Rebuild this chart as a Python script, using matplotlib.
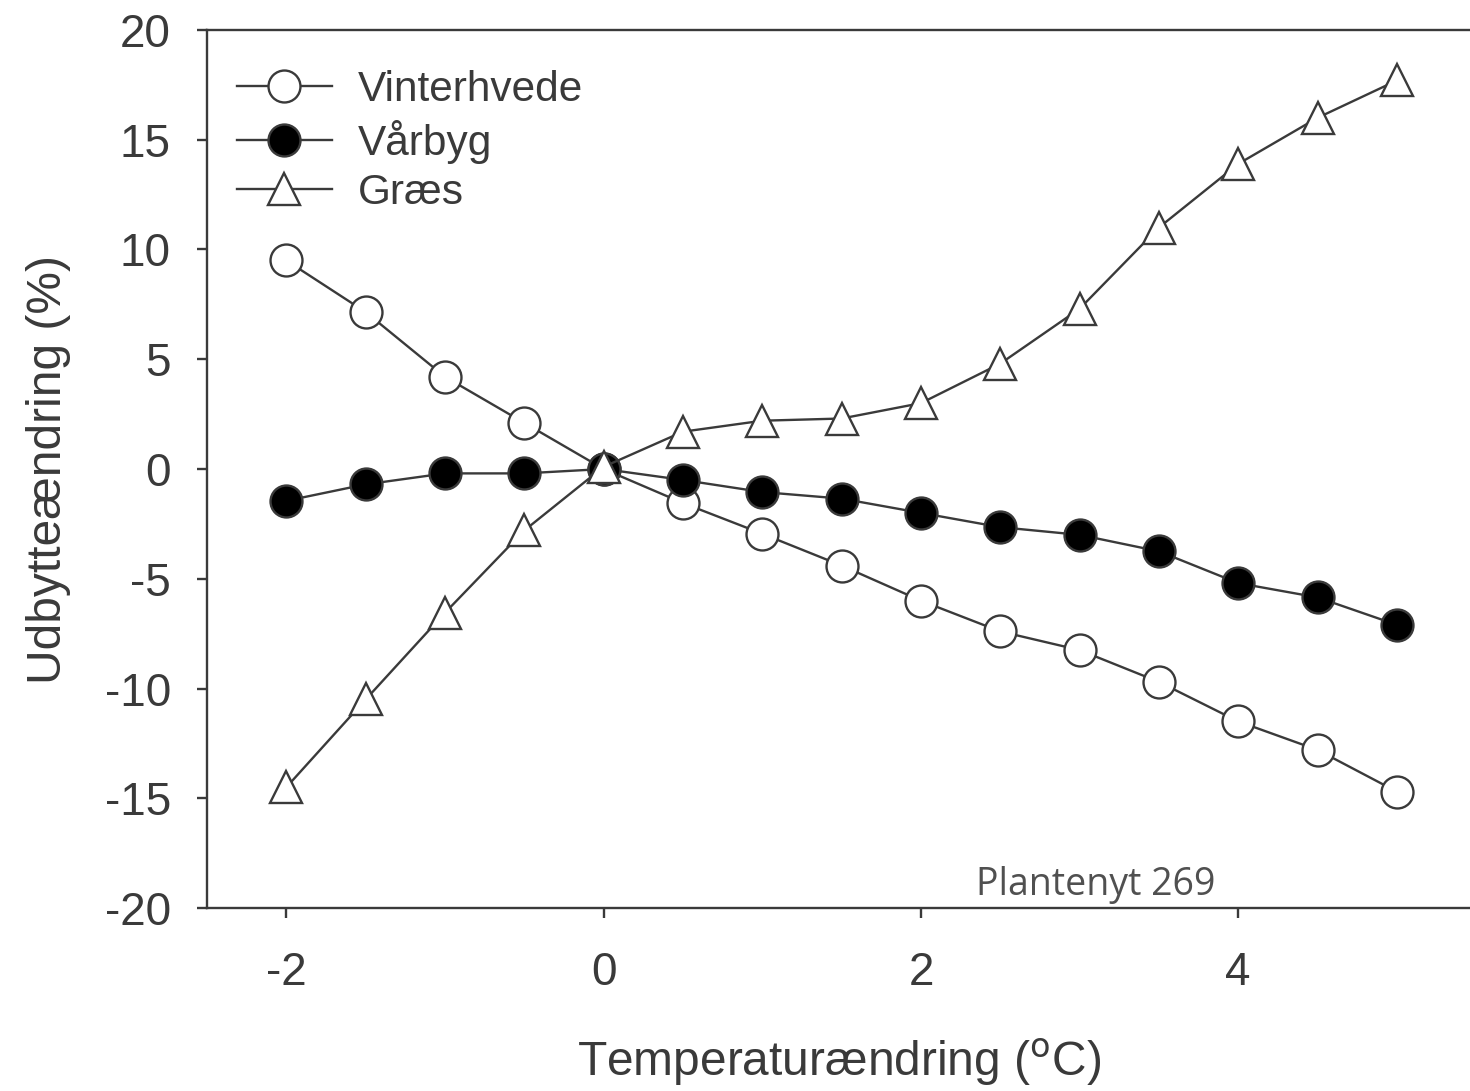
import numpy as np
import matplotlib.pyplot as plt

# temperature change (degC)
temp = [-2, -1.5, -1, -0.5, 0, 0.5, 1, 1.5, 2, 2.5, 3, 3.5, 4, 4.5, 5]

# yield change (%)
vinterhvede = [9.5, 7.15, 4.2, 2.1, 0, -1.55, -2.95, -4.4, -6.0, -7.4, -8.25, -9.7, -11.5, -12.8, -14.7]
vaarbyg = [-1.45, -0.7, -0.2, -0.2, 0, -0.5, -1.05, -1.35, -2.0, -2.65, -3.0, -3.75, -5.2, -5.85, -7.1]
graes = [-14.5, -10.5, -6.55, -2.8, 0.1, 1.7, 2.2, 2.3, 3.0, 4.8, 7.3, 11.0, 13.9, 16.0, 17.7]

xticks = [-2, 0, 2, 4]
yticks = [-20, -15, -10, -5, 0, 5, 10, 15, 20]

plt.rcParams['font.family'] = ['Liberation Sans', 'DejaVu Sans']
plt.rcParams['axes.unicode_minus'] = False
dark = '#3a3a3a'

fig = plt.figure(figsize=(14.7, 10.91), dpi=100)
ax = fig.add_axes([207/1470, 183/1091, 1 - 207/1470 + 0.001, 878/1091])

kw = dict(color=dark, lw=1.7, ms=23, mew=1.7, mec=dark)
ax.plot(temp, vinterhvede, 'o-', mfc='white', label='Vinterhvede', **kw)
ax.plot(temp, vaarbyg, 'o-', mfc='black', label='Vårbyg', **kw)
ax.plot(temp, graes, '^-', mfc='white', label='Græs', **kw)

ax.set_xlim(-2.5, 5.47)
ax.set_ylim(-20, 20)
ax.set_xticks(xticks)
ax.set_yticks(yticks)
ax.spines['right'].set_visible(False)
for s in ['left', 'top', 'bottom']:
    ax.spines[s].set_color(dark)
    ax.spines[s].set_linewidth(1.7)
ax.tick_params(direction='out', length=7, width=1.7, color=dark,
               labelsize=33, labelcolor=dark)
ax.tick_params(axis='x', pad=24)
ax.tick_params(axis='y', pad=19)

ax.set_xlabel('Temperaturændring ($^{\\rm o}$C)', fontsize=34.5, color=dark, labelpad=30)
ax.set_ylabel('Udbytteændring (%)', fontsize=34.5, color=dark, labelpad=24)

leg = ax.legend(loc='upper left', frameon=False, fontsize=30.5, handlelength=2.25,
                handletextpad=0.6, labelspacing=0.22, borderaxespad=0.3,
                labelcolor=dark, bbox_to_anchor=(0.0, 0.988))

ax.text(3.1, -18.95, 'Plantenyt 269', fontsize=27, color='#505050',
        family=['Open Sans', 'DejaVu Sans'], ha='center', va='center')

fig.savefig('out.png', dpi=100)
